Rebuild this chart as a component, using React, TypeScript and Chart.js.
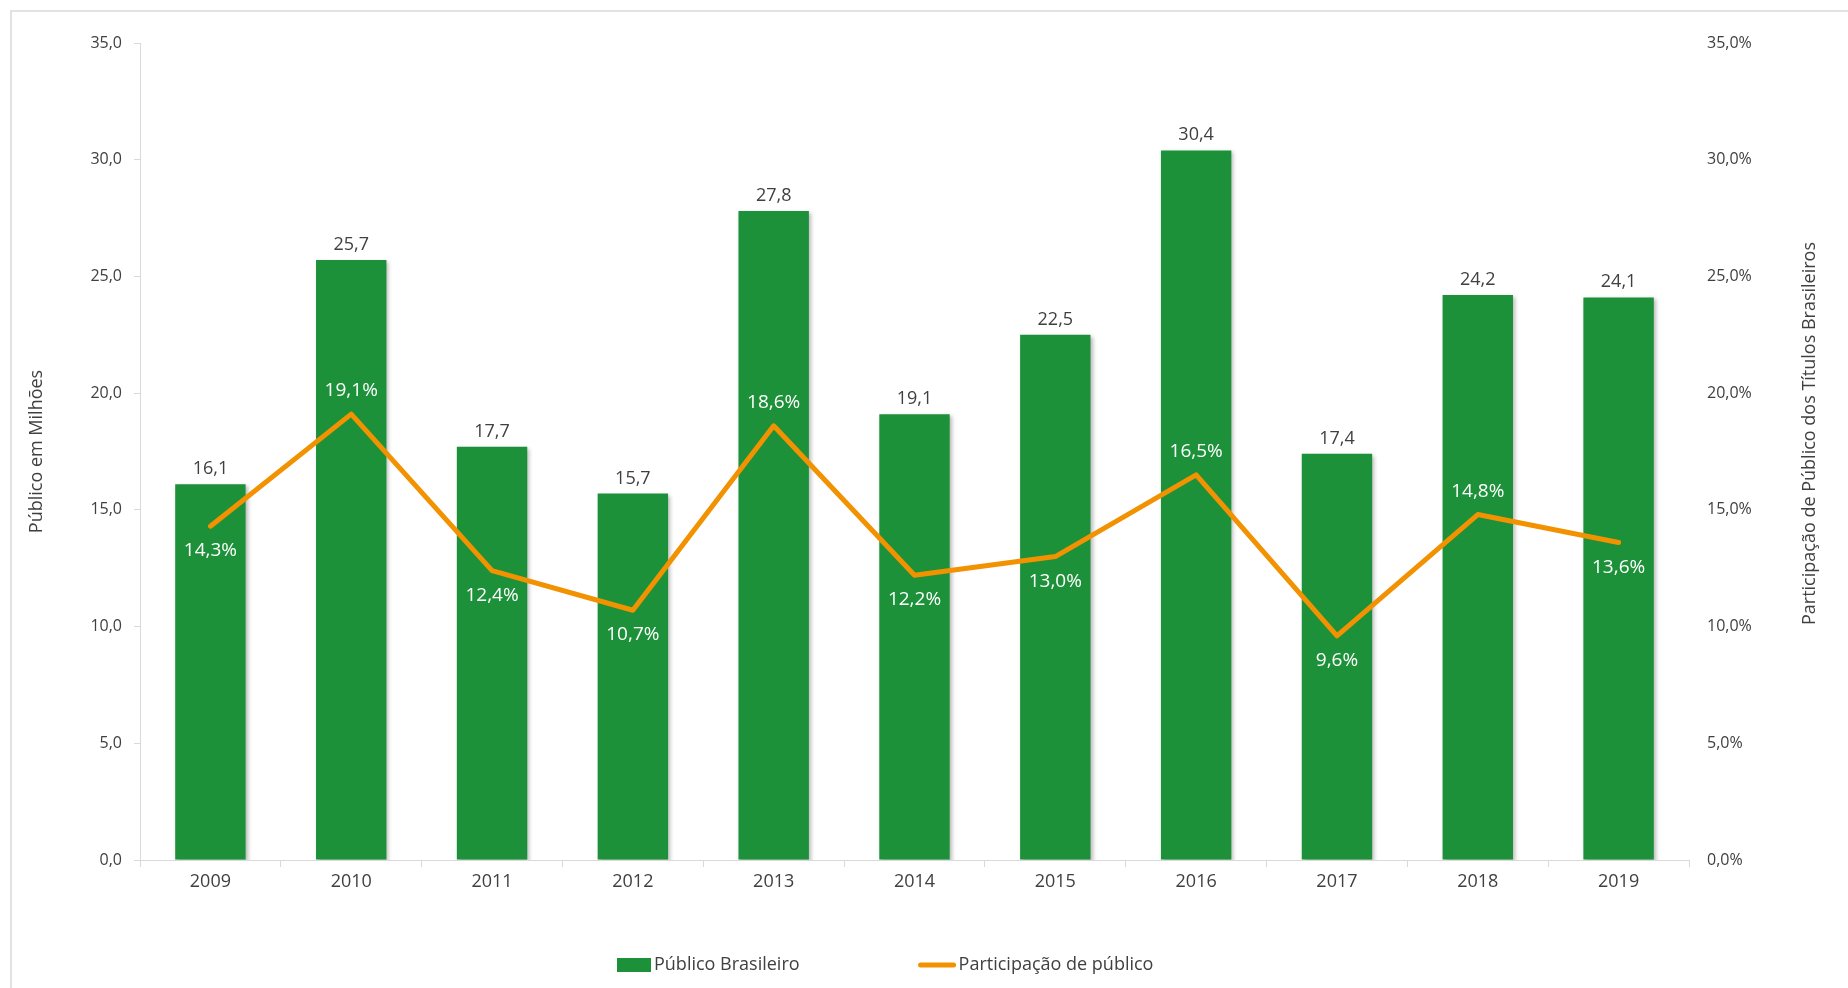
import React, { useEffect, useRef } from "react";
import { Chart, registerables } from "chart.js";

Chart.register(...registerables);

// ---------- data ----------
const categories = ["2009", "2010", "2011", "2012", "2013", "2014", "2015", "2016", "2017", "2018", "2019"];
const publicoBrasileiro = [16.1, 25.7, 17.7, 15.7, 27.8, 19.1, 22.5, 30.4, 17.4, 24.2, 24.1];
const participacaoPublico = [14.3, 19.1, 12.4, 10.7, 18.6, 12.2, 13.0, 16.5, 9.6, 14.8, 13.6];

// label placement for the percentage labels (true = above the point)
const lineLabelAbove = [false, true, false, false, true, false, false, true, false, true, false];

const barLabel = "Público Brasileiro";
const lineLabel = "Participação de público";
const leftTitle = "Público em Milhões";
const rightTitle = "Participação de Público dos Títulos Brasileiros";

// ---------- style ----------
const GREEN = "#1C9139";
const ORANGE = "#F39200";
const TEXT = "#404040";
const AXIS = "#D9D9D9";
const FONT = "'Open Sans', sans-serif";

const fmt1 = (v: number) => v.toFixed(1).replace(".", ",");

const decorPlugin = {
  id: "decor",
  beforeDraw(chart: any) {
    const ctx = chart.ctx;
    ctx.save();
    ctx.strokeStyle = AXIS;
    ctx.lineWidth = 1.5;
    ctx.beginPath();
    ctx.moveTo(11, chart.height);
    ctx.lineTo(11, 11);
    ctx.lineTo(chart.width, 11);
    ctx.stroke();
    ctx.restore();
  },
  beforeDatasetDraw(chart: any, args: any) {
    if (args.meta.type === "bar") {
      const ctx = chart.ctx;
      ctx.save();
      ctx.shadowColor = "rgba(0,0,0,0.28)";
      ctx.shadowBlur = 4;
      ctx.shadowOffsetX = 2;
      ctx.shadowOffsetY = 2;
    }
  },
  afterDatasetDraw(chart: any, args: any) {
    if (args.meta.type === "bar") {
      chart.ctx.restore();
    }
  },
  afterDatasetsDraw(chart: any) {
    const ctx = chart.ctx;
    ctx.save();
    // bar value labels
    const barMeta = chart.getDatasetMeta(0);
    ctx.font = `18px ${FONT}`;
    ctx.fillStyle = TEXT;
    ctx.textAlign = "center";
    ctx.textBaseline = "alphabetic";
    barMeta.data.forEach((el: any, i: number) => {
      ctx.fillText(fmt1(publicoBrasileiro[i]), el.x, el.y - 10);
    });
    // line percentage labels
    const lineMeta = chart.getDatasetMeta(1);
    ctx.font = `19px ${FONT}`;
    ctx.fillStyle = "#FFFFFF";
    lineMeta.data.forEach((el: any, i: number) => {
      const center = lineLabelAbove[i] ? el.y - 25 : el.y + 23;
      ctx.fillText(fmt1(participacaoPublico[i]) + "%", el.x, center + 7);
    });
    ctx.restore();
  },
  afterDraw(chart: any) {
    const ctx = chart.ctx;
    const area = chart.chartArea;
    ctx.save();
    // right axis title (reads bottom to top)
    ctx.font = `18px ${FONT}`;
    ctx.fillStyle = TEXT;
    ctx.textAlign = "center";
    ctx.textBaseline = "middle";
    ctx.translate(chart.width - 38, (area.top + area.bottom) / 2 - 18);
    ctx.rotate(-Math.PI / 2);
    ctx.fillText(rightTitle, 0, 0);
    ctx.restore();

    // legend
    ctx.save();
    ctx.font = `18px ${FONT}`;
    ctx.fillStyle = TEXT;
    ctx.textBaseline = "middle";
    ctx.textAlign = "left";
    const ly = 965;
    let x = 617;
    ctx.fillStyle = GREEN;
    ctx.fillRect(x, ly - 7, 34, 14);
    x += 37;
    ctx.fillStyle = TEXT;
    ctx.fillText(barLabel, x, ly);
    x += ctx.measureText(barLabel).width + 119;
    ctx.strokeStyle = ORANGE;
    ctx.lineWidth = 5;
    ctx.lineCap = "round";
    ctx.beginPath();
    ctx.moveTo(x + 2, ly);
    ctx.lineTo(x + 35, ly);
    ctx.stroke();
    x += 40;
    ctx.fillStyle = TEXT;
    ctx.fillText(lineLabel, x, ly);
    ctx.restore();
  },
};

export default function App() {
  const canvasRef = useRef<HTMLCanvasElement | null>(null);

  useEffect(() => {
    if (!canvasRef.current) return;
    const chart = new Chart(canvasRef.current, {
      type: "bar",
      data: {
        labels: categories,
        datasets: [
          {
            type: "bar",
            label: barLabel,
            data: publicoBrasileiro,
            backgroundColor: GREEN,
            borderWidth: 0,
            barPercentage: 0.5,
            categoryPercentage: 1.0,
            yAxisID: "y",
            order: 1,
          },
          {
            type: "line",
            label: lineLabel,
            data: participacaoPublico,
            borderColor: ORANGE,
            backgroundColor: ORANGE,
            borderWidth: 5,
            borderCapStyle: "round",
            borderJoinStyle: "round",
            pointRadius: 0,
            pointHoverRadius: 0,
            tension: 0,
            yAxisID: "y1",
            order: 0,
          },
        ],
      },
      options: {
        responsive: false,
        animation: false,
        layout: { padding: { left: 0, right: 0, top: 43, bottom: 88 } },
        plugins: {
          legend: { display: false },
          tooltip: { enabled: false },
        },
        scales: {
          x: {
            offset: true,
            grid: {
              offset: true,
              drawOnChartArea: false,
              drawTicks: true,
              tickLength: 7,
              color: AXIS,
            },
            border: { display: true, color: AXIS, width: 1 },
            ticks: { color: TEXT, font: { family: FONT, size: 18 }, padding: 4 },
            afterFit: (scale: any) => {
              scale.height = 40;
            },
          },
          y: {
            position: "left",
            min: 0,
            max: 35,
            ticks: {
              stepSize: 5,
              color: TEXT,
              font: { family: FONT, size: 16 },
              padding: 12,
              callback: (v: any) => fmt1(Number(v)),
            },
            grid: { drawOnChartArea: false, drawTicks: true, tickLength: 6, color: AXIS },
            border: { display: true, color: AXIS, width: 1 },
            title: {
              display: true,
              text: leftTitle,
              color: TEXT,
              font: { family: FONT, size: 18 },
              padding: { top: 26, bottom: 0 },
            },
            afterFit: (scale: any) => {
              scale.width = 140;
            },
          },
          y1: {
            position: "right",
            min: 0,
            max: 35,
            ticks: {
              stepSize: 5,
              color: TEXT,
              font: { family: FONT, size: 16 },
              padding: 18,
              callback: (v: any) => fmt1(Number(v)) + "%",
            },
            grid: { display: false, drawTicks: false, drawOnChartArea: false },
            border: { display: false },
            afterFit: (scale: any) => {
              scale.width = 159;
            },
          },
        },
      },
      plugins: [decorPlugin],
    } as any);
    return () => chart.destroy();
  }, []);

  return (
    <div style={{ position: "absolute", left: 0, top: 0, width: 1848, height: 988, background: "#FFFFFF" }}>
      <canvas ref={canvasRef} width={1848} height={988} style={{ display: "block", width: 1848, height: 988 }} />
    </div>
  );
}
